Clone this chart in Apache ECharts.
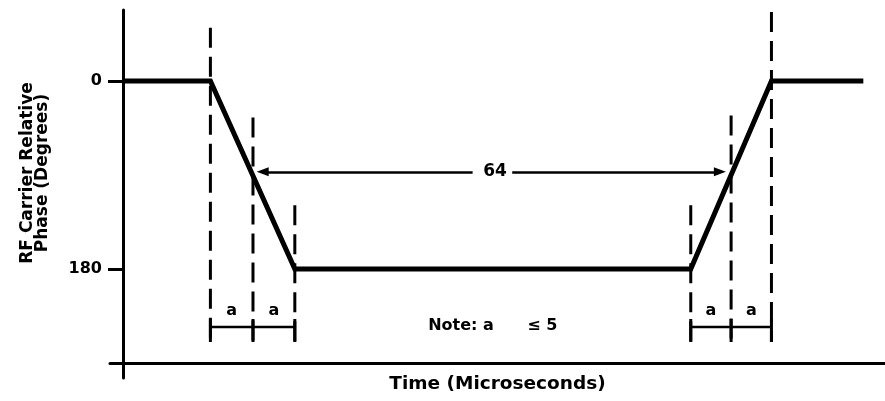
<!DOCTYPE html>
<html><head><meta charset="utf-8">
<script src="https://cdn.jsdelivr.net/npm/echarts@6/dist/echarts.min.js"></script>
<style>html,body{margin:0;padding:0;background:#fff}#c{width:885px;height:401px}</style>
</head><body><div id="c"></div>
<script>
// Phase profile: time (microseconds) and RF carrier relative phase (degrees)
const phaseTime = [0, 11.7, 23.0, 76.0, 86.8, 99.1];
const phaseDeg  = [0, 0, 180, 180, 0, 0];
// Dashed guide lines: time positions and the phase level where each begins
const guideTime = [11.7, 17.4, 23.0, 76.0, 81.4, 86.8];
const guideTop  = [-51, 35, 119, 119, 33, -66];
const guideBottom = 250;
// "a" spacing dimensions (index pairs into guideTime)
const aPairs = [[0, 1], [1, 2], [3, 4], [4, 5]];
const aText = 'a';
const dimLevel = 235.5;
const dimTickTop = 228, dimTickBottom = 250;
const aLabelLevel = 220;
// 64 microsecond span arrow
const spanText = '64';
const spanLeft = 18.7, spanRight = 79.9, spanLevel = 87;
const spanGapLeft = 46.8, spanGapRight = 52.1;
const spanLabelTime = 49.8;
// Y tick labels
const yTicks = [0, 180];
// Note
const noteText = 'Note: a      \u2264 5';
const noteTime = 49.5, noteLevel = 234;

const FONT = 'DejaVu Sans';
const series = [];

series.push({
  type: 'line', data: phaseTime.map((t, i) => [t, phaseDeg[i]]),
  symbol: 'none', lineStyle: { color: '#000', width: 5, join: 'miter' }, z: 5, silent: true
});
guideTime.forEach((t, i) => {
  series.push({
    type: 'line', data: [[t, guideTop[i]], [t, guideBottom]], symbol: 'none',
    lineStyle: { color: '#000', width: 3, type: [20, 9] }, z: 3, silent: true
  });
  series.push({
    type: 'line', data: [[t, dimTickTop], [t, dimTickBottom]], symbol: 'none',
    lineStyle: { color: '#000', width: 3 }, z: 3, silent: true
  });
});
aPairs.forEach(([i, j]) => {
  series.push({
    type: 'line', data: [[guideTime[i], dimLevel], [guideTime[j], dimLevel]], symbol: 'none',
    lineStyle: { color: '#000', width: 2.5 }, z: 3, silent: true
  });
});

const lbl = (size) => ({ show: true, position: 'inside', color: '#000', textBorderWidth: 0,
  fontFamily: FONT, fontWeight: 'bold', fontSize: size, formatter: p => p.value[2] });
const labelData = aPairs.map(([i, j]) => [(guideTime[i] + guideTime[j]) / 2, aLabelLevel, aText]);
series.push({
  type: 'scatter', symbolSize: 0, silent: true, z: 6,
  itemStyle: { color: '#000', opacity: 1 },
  data: labelData.map(d => ({ value: d, label: lbl(16) }))
    .concat([{ value: [spanLabelTime, spanLevel, spanText], label: lbl(17) },
             { value: [noteTime, noteLevel, noteText], label: lbl(16) }]),
  label: lbl(16),
  markLine: {
    silent: true, animation: false,
    symbol: ['none', 'triangle'], symbolSize: [9, 12],
    lineStyle: { color: '#000', width: 2.5, type: 'solid', opacity: 1 },
    itemStyle: { color: '#000', opacity: 1 },
    label: { show: false },
    data: [
      [{ coord: [spanGapLeft, spanLevel] }, { coord: [spanLeft, spanLevel] }],
      [{ coord: [spanGapRight, spanLevel] }, { coord: [spanRight, spanLevel] }]
    ]
  }
});

const chart = echarts.init(document.getElementById('c'));
chart.setOption({
  animation: false,
  backgroundColor: '#fff',
  grid: { left: 110, right: 0, top: 10, bottom: 23 },
  xAxis: {
    type: 'value', min: -1.74, max: 102.0, offset: -15,
    axisLine: { show: true, onZero: false, lineStyle: { color: '#000', width: 3 } },
    axisTick: { show: false }, axisLabel: { show: false }, splitLine: { show: false },
    name: 'Time (Microseconds)', nameLocation: 'middle', nameGap: 12,
    nameTextStyle: { color: '#000', fontFamily: FONT, fontWeight: 'bold', fontSize: 18.5 }
  },
  yAxis: {
    type: 'value', inverse: true, min: -68, max: 284.4,
    axisLine: { show: true, onZero: true, lineStyle: { color: '#000', width: 3 } },
    axisTick: { show: true, customValues: yTicks, length: 15, lineStyle: { color: '#000', width: 3 } },
    axisLabel: { show: true, customValues: yTicks, margin: 8, color: '#000', fontFamily: FONT, fontWeight: 'bold', fontSize: 16 },
    splitLine: { show: false },
    name: 'RF Carrier Relative\nPhase (Degrees)', nameLocation: 'middle', nameRotate: 90, nameGap: 60,
    nameTextStyle: { color: '#000', fontFamily: FONT, fontWeight: 'bold', fontSize: 17, lineHeight: 15, padding: [0, 0, 0, 42] }
  },
  series: series
});
</script></body></html>
